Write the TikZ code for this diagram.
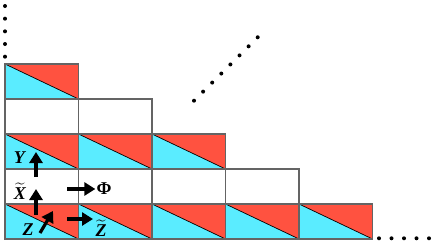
\documentclass[tikz,border=0pt]{standalone}
\usepackage{amsmath}
\usepackage{fontspec}
\setmainfont{Liberation Serif}
\usetikzlibrary{arrows.meta}
\definecolor{cyanc}{RGB}{90,236,255}
\definecolor{redc}{RGB}{255,82,64}
\definecolor{gridc}{RGB}{100,100,100}
\tikzset{
  cellline/.style={draw=gridc,line width=1.1pt},
  diag/.style={draw=black,line width=0.7pt},
  bigarrow/.style={line width=3.2pt,-{Triangle[length=11pt,width=13pt]}},
  lab/.style={inner sep=0pt,font=\fontsize{18}{20}\selectfont\bfseries},
  dotc/.style={fill=black}
}
\newcommand{\colcell}[2]{% #1 = x left, #2 = y top (pixel coords)
  \fill[cyanc] (#1,242-#2) -- (#1,242-#2-35) -- (#1+73.5,242-#2-35) -- cycle;
  \fill[redc] (#1,242-#2) -- (#1+73.5,242-#2) -- (#1+73.5,242-#2-35) -- cycle;
  \draw[diag] (#1,242-#2) -- (#1+73.5,242-#2-35);
  \draw[cellline] (#1,242-#2) rectangle (#1+73.5,242-#2-35);
}
\newcommand{\whcell}[2]{%
  \draw[cellline] (#1,242-#2) rectangle (#1+73.5,242-#2-35);
}
\newcommand{\tld}[1]{$\widetilde{\hbox{#1}}$}
\begin{document}
\begin{tikzpicture}[x=1pt,y=1pt]
\useasboundingbox (0,0) rectangle (436,242);
% column 0
\colcell{5}{64}
\whcell{5}{99}
\colcell{5}{134}
\whcell{5}{169}
\colcell{5}{204}
% column 1
\whcell{78.5}{99}
\colcell{78.5}{134}
\whcell{78.5}{169}
\colcell{78.5}{204}
% column 2
\colcell{152}{134}
\whcell{152}{169}
\colcell{152}{204}
% column 3
\whcell{225.5}{169}
\colcell{225.5}{204}
% column 4
\colcell{299}{204}
% dots vertical
\foreach \i in {0,...,4} \fill[dotc] (5,242-6-12.67*\i) circle (2pt);
% dots diagonal
\foreach \i in {0,...,7} \fill[dotc] (194+9.1*\i,242-100.7+9.06*\i) circle (2pt);
% dots horizontal
\foreach \i in {0,...,4} \fill[dotc] (379+12.5*\i,242-238.3) circle (2pt);
% labels
\node[lab] (Y) at (20,242-158) {\textit{Y}};
\node[lab] (X) at (20,242-191) {\tld{\textit{X}}};
\node[lab] (Z) at (28,242-230) {\textit{Z}};
\node[lab] (Phi) at (104,242-189) {Φ};
\node[lab] (Zt) at (101,242-228) {\tld{\textit{Z}}};
% arrows
\coordinate (ya) at (36,242-177);
\coordinate (yb) at (36,242-152);
\coordinate (xa) at (36,242-215);
\coordinate (xb) at (36,242-189);
\coordinate (za) at (40,242-233);
\coordinate (zb) at (53,242-211);
\coordinate (pa) at (67,242-189);
\draw[bigarrow] (ya) -- (yb);
\draw[bigarrow] (xa) -- (xb);
\draw[bigarrow] (za) -- (zb);
\draw[bigarrow] (pa) -- ([xshift=-1pt]Phi.west);
\coordinate (qa) at (67,242-219);
\coordinate (qb) at (93,242-219);
\draw[bigarrow] (qa) -- (qb);
\end{tikzpicture}
\end{document}
